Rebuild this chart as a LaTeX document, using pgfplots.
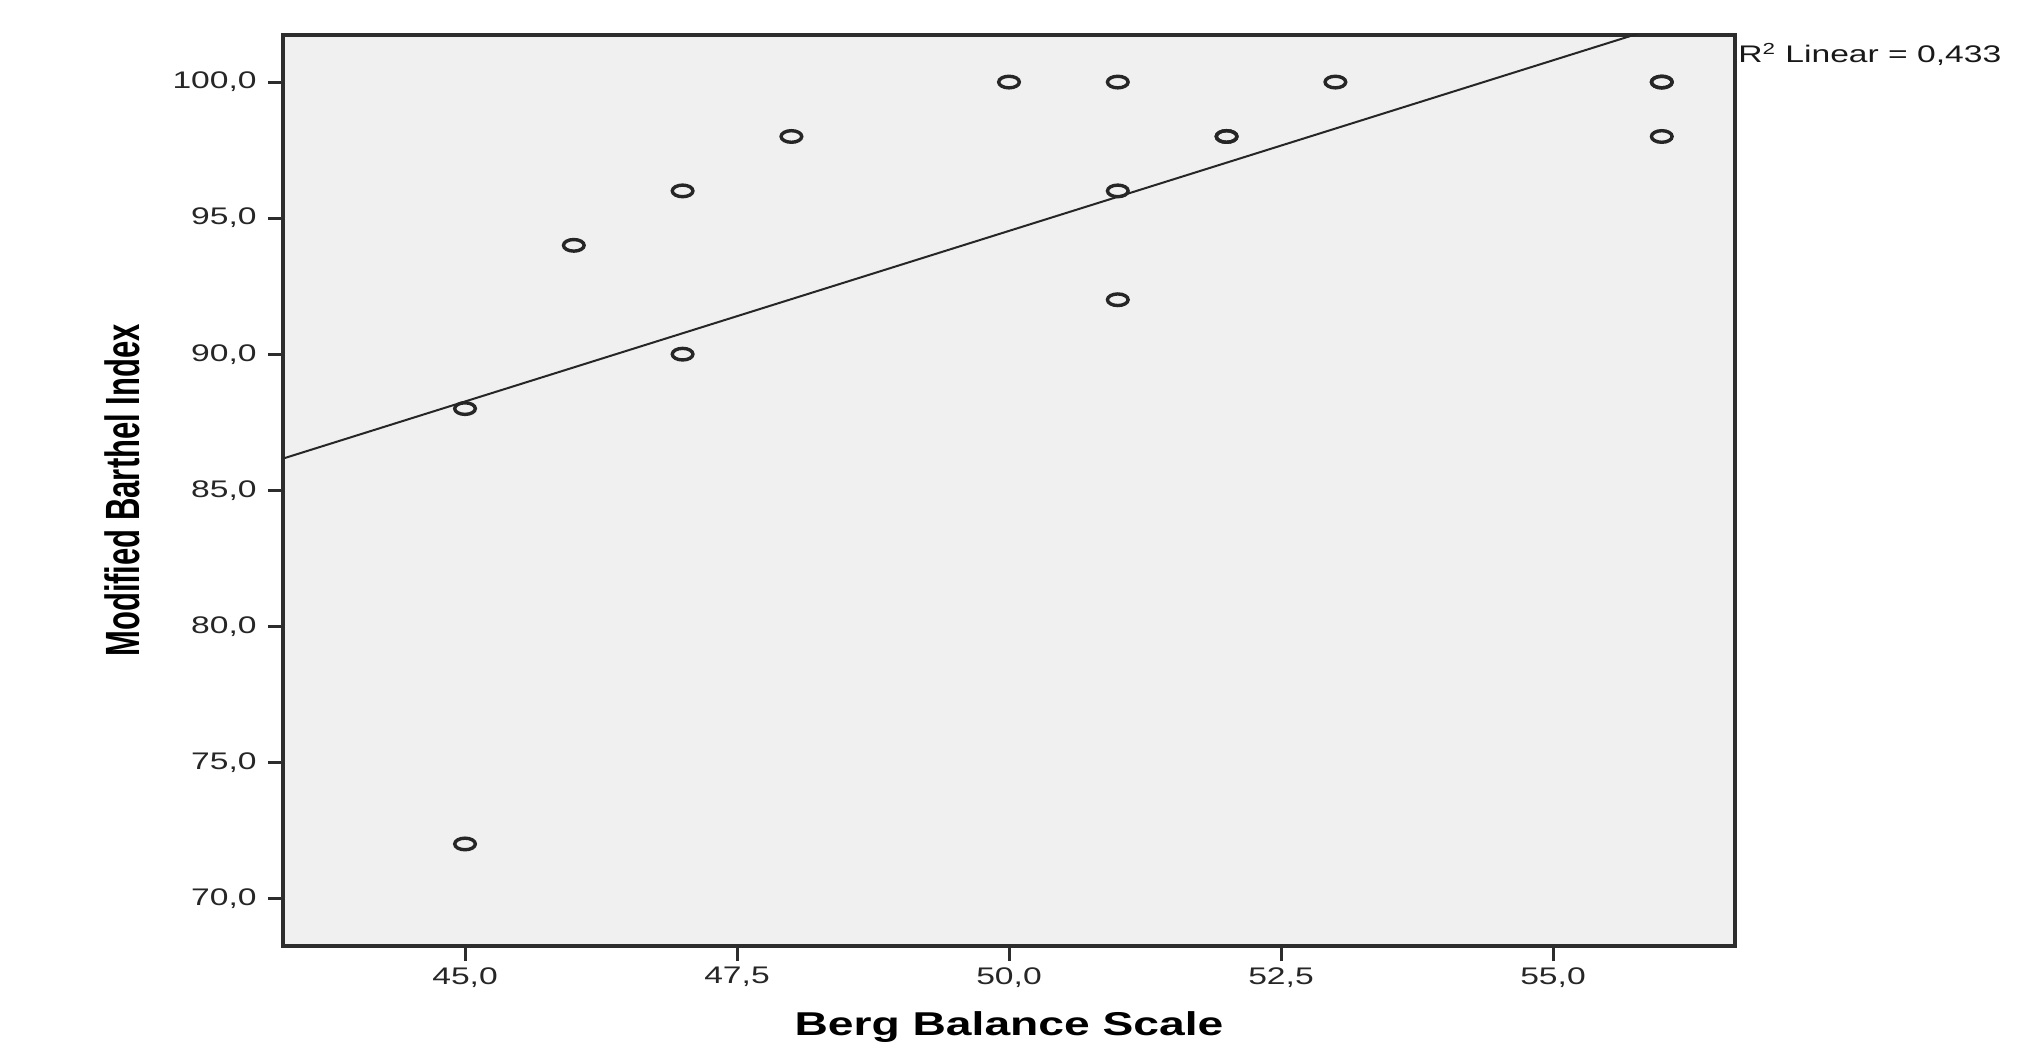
\documentclass[border=0pt]{standalone}
\usepackage{fontspec}
\setmainfont{Liberation Sans}[FakeStretch=1.4]
\newfontfamily\plainfont{Liberation Sans}
\usepackage{graphicx}
\usepackage{pgfplots}
\pgfplotsset{compat=1.18}
\definecolor{plotbg}{RGB}{240,240,240}
\definecolor{framec}{RGB}{45,45,45}
\begin{document}
\begin{tikzpicture}
\begin{axis}[
  scale only axis, width=726pt, height=455.5pt,
  xmin=43.327, xmax=56.673, ymin=68.25, ymax=101.73,
  axis background/.style={fill=plotbg},
  axis line style={framec, line width=1.6pt},
  xtick={45,47.5,50,52.5,55}, ytick={70,75,80,85,90,95,100},
  xtick pos=bottom, ytick pos=left, tick align=outside,
  major tick length=7.5pt,
  tick style={framec, line width=1.5pt},
  minor tick num=0,
  /pgf/number format/.cd, fixed, fixed zerofill, precision=1, use comma, assume math mode=true, /pgfplots/.cd,
  tick label style={font=\fontsize{12}{14}\selectfont, text=black!85},
  yticklabel style={anchor=east, inner sep=0pt},
  xticklabel style={anchor=north, inner sep=0pt},
  yticklabel shift=5.5pt,
  xticklabel shift=3pt,
  xlabel={Berg Balance Scale},
  ylabel={\plainfont\bfseries\fontsize{15.5}{18}\selectfont\scalebox{1}[1.55]{Modified Barthel Index}},
  xlabel style={at={(axis description cs:0.5,-0.0977)}, anchor=base, inner sep=0pt, font=\fontsize{16.5}{19}\selectfont\bfseries},
  ylabel style={at={(axis description cs:-0.0985,0.5)}, anchor=base, inner sep=0pt},
  clip=true,
]
\addplot[black!85, line width=1pt] coordinates {(43.327,86.163) (56.673,102.897)};
\addplot[only marks, mark=o, mark size=2.9pt, mark options={xscale=1.78, line width=1.7pt, draw=black!85}] coordinates {
(45,88) (45,72) (46,94) (47,96) (47,90) (48,98) (50,100) (51,100) (51,96) (51,92)
(52,98) (52,98) (53,100) (56,100) (56,100) (56,98)
};
\coordinate (bl) at (rel axis cs:0,0);
\coordinate (tr) at (rel axis cs:1,1);
\end{axis}
\node[anchor=base west, font=\fontsize{12}{14}\selectfont, inner sep=0pt, text=black!90] at ([xshift=1.5pt,yshift=-14pt]tr) {R\textsuperscript{2} Linear = 0,433};
\pgfresetboundingbox
\path ([shift={(-141.5pt,-51.5pt)}]bl) rectangle ([shift={(154.5pt,17.5pt)}]tr);
\end{tikzpicture}
\end{document}
